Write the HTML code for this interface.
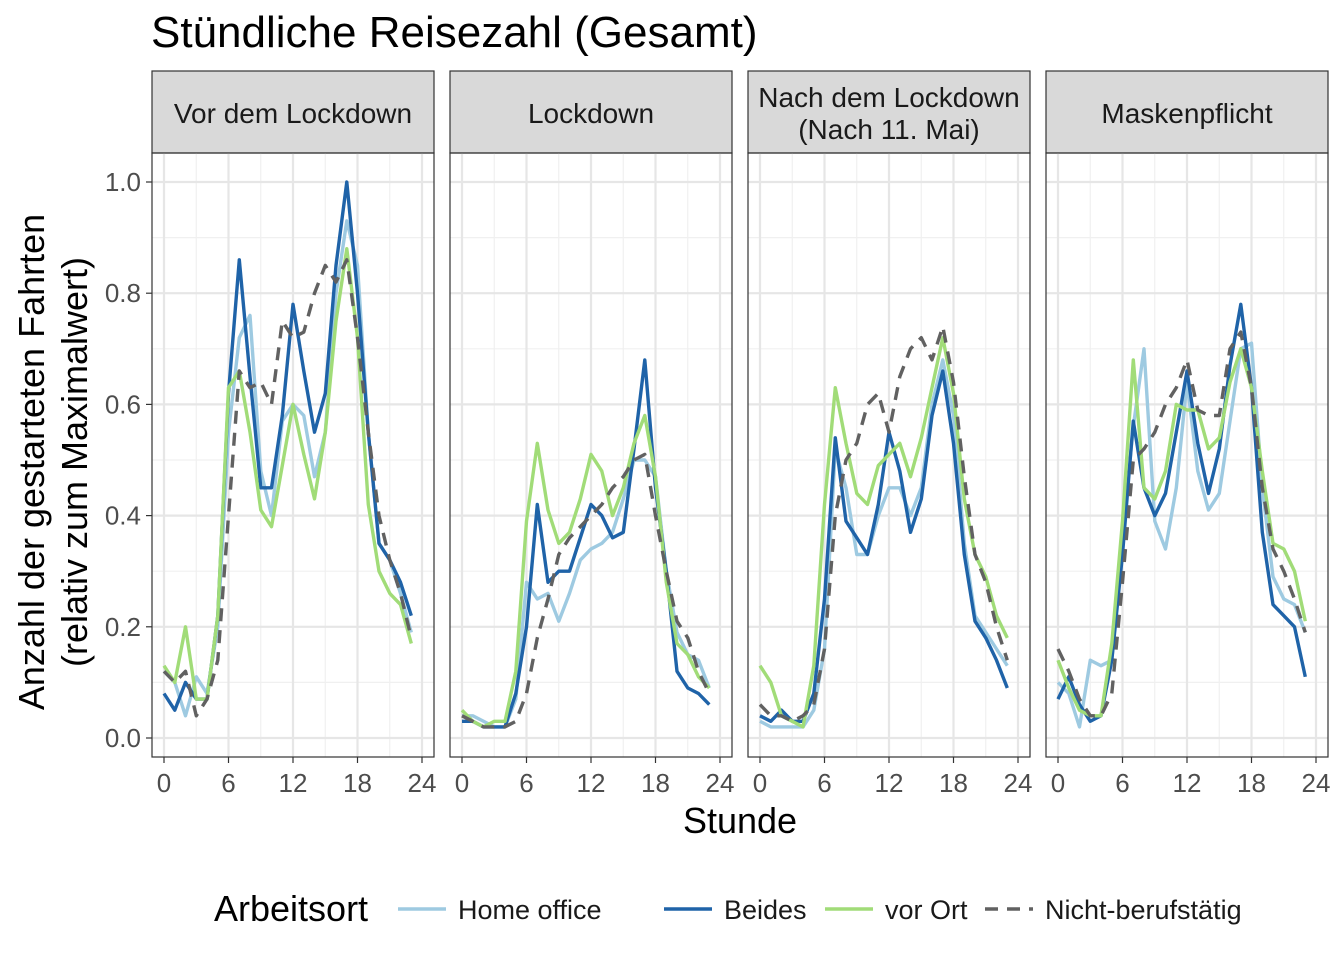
<!DOCTYPE html>
<html><head><meta charset="utf-8"><style>
body{margin:0;background:#fff;}
svg text{font-family:"Liberation Sans",Arial,sans-serif;}
</style></head><body>
<svg id="chart" width="1344" height="960" xmlns="http://www.w3.org/2000/svg">
<rect width="1344" height="960" fill="#fff"/>
<text x="151" y="47" font-size="44" fill="#000">Stündliche Reisezahl (Gesamt)</text>
<g id="panels"></g>
<text x="740" y="833" font-size="36" text-anchor="middle">Stunde</text>
<g transform="translate(44,462) rotate(-90)">
<text x="0" y="0" font-size="36" text-anchor="middle">Anzahl der gestarteten Fahrten</text>
<text x="0" y="43" font-size="36" text-anchor="middle">(relativ zum Maximalwert)</text>
</g>
<g id="legend">
<text x="214" y="921" font-size="36">Arbeitsort</text>
</g>
</svg>
<script>
const hours = [0,1,2,3,4,5,6,7,8,9,10,11,12,13,14,15,16,17,18,19,20,21,22,23];
const panelTitles = [["Vor dem Lockdown"],["Lockdown"],["Nach dem Lockdown","(Nach 11. Mai)"],["Maskenpflicht"]];
const seriesNames = ["Home office","Beides","vor Ort","Nicht-berufstätig"];
const xTicks = [0,6,12,18,24];
const yTicks = [0,0.2,0.4,0.6,0.8,1.0];
const yTickLabels = ["0.0","0.2","0.4","0.6","0.8","1.0"];
const homeOffice = [
 [0.12,0.10,0.04,0.11,0.08,0.20,0.55,0.72,0.76,0.48,0.40,0.57,0.60,0.58,0.47,0.55,0.80,0.93,0.85,0.55,0.35,0.32,0.26,0.19],
 [0.04,0.04,0.03,0.02,0.02,0.07,0.28,0.25,0.26,0.21,0.26,0.32,0.34,0.35,0.37,0.43,0.50,0.50,0.47,0.30,0.19,0.15,0.14,0.09],
 [0.03,0.02,0.02,0.02,0.02,0.05,0.16,0.52,0.45,0.33,0.33,0.40,0.45,0.45,0.40,0.45,0.60,0.68,0.58,0.35,0.22,0.19,0.16,0.13],
 [0.10,0.08,0.02,0.14,0.13,0.14,0.36,0.56,0.70,0.39,0.34,0.45,0.64,0.48,0.41,0.44,0.57,0.70,0.71,0.45,0.29,0.25,0.24,0.19]];
const beides = [
 [0.08,0.05,0.10,0.07,0.07,0.22,0.62,0.86,0.65,0.45,0.45,0.58,0.78,0.66,0.55,0.62,0.85,1.0,0.80,0.55,0.35,0.32,0.28,0.22],
 [0.03,0.03,0.02,0.02,0.02,0.08,0.20,0.42,0.28,0.30,0.30,0.36,0.42,0.40,0.36,0.37,0.52,0.68,0.45,0.30,0.12,0.09,0.08,0.06],
 [0.04,0.03,0.05,0.03,0.03,0.08,0.25,0.54,0.39,0.36,0.33,0.42,0.55,0.48,0.37,0.43,0.58,0.66,0.53,0.33,0.21,0.18,0.14,0.09],
 [0.07,0.11,0.06,0.03,0.04,0.14,0.33,0.57,0.45,0.40,0.44,0.55,0.66,0.53,0.44,0.52,0.67,0.78,0.63,0.37,0.24,0.22,0.20,0.11]];
const vorOrt = [
 [0.13,0.10,0.20,0.07,0.07,0.22,0.63,0.66,0.55,0.41,0.38,0.49,0.60,0.51,0.43,0.55,0.75,0.88,0.72,0.42,0.30,0.26,0.24,0.17],
 [0.05,0.03,0.02,0.03,0.03,0.12,0.39,0.53,0.41,0.35,0.37,0.43,0.51,0.48,0.40,0.45,0.53,0.58,0.47,0.28,0.17,0.15,0.11,0.09],
 [0.13,0.10,0.04,0.03,0.02,0.13,0.42,0.63,0.53,0.44,0.42,0.49,0.51,0.53,0.47,0.54,0.63,0.72,0.62,0.43,0.33,0.29,0.22,0.18],
 [0.14,0.09,0.05,0.04,0.04,0.17,0.39,0.68,0.45,0.43,0.48,0.60,0.59,0.59,0.52,0.54,0.64,0.70,0.63,0.48,0.35,0.34,0.30,0.21]];
const nicht = [
 [0.12,0.10,0.12,0.04,0.07,0.14,0.40,0.66,0.63,0.64,0.60,0.75,0.72,0.73,0.80,0.85,0.82,0.86,0.72,0.55,0.40,0.32,0.26,0.18],
 [0.04,0.03,0.02,0.02,0.02,0.03,0.08,0.18,0.25,0.33,0.36,0.38,0.40,0.42,0.45,0.47,0.50,0.51,0.40,0.30,0.21,0.18,0.12,0.08],
 [0.06,0.04,0.04,0.03,0.04,0.06,0.16,0.40,0.50,0.53,0.60,0.62,0.55,0.65,0.70,0.72,0.68,0.74,0.64,0.47,0.33,0.28,0.20,0.14],
 [0.16,0.12,0.07,0.04,0.04,0.08,0.28,0.50,0.52,0.55,0.60,0.63,0.68,0.59,0.58,0.58,0.70,0.73,0.63,0.45,0.34,0.30,0.25,0.19]];

(function(){
const NS="http://www.w3.org/2000/svg";
const panelsG=document.getElementById('panels');
const panelLeft=[152,450,748,1046], panelW=282;
const plotTop=153, plotBottom=757;
const colors=["#9ecae1","#1f63a8","#a1dc78","#616161"];
const allData=[homeOffice,beides,vorOrt,nicht];
function el(tag,attrs,parent){const e=document.createElementNS(NS,tag);for(const k in attrs)e.setAttribute(k,attrs[k]);parent.appendChild(e);return e;}
function yScale(v){return 738-v*556;}
for(let p=0;p<4;p++){
  const L=panelLeft[p];
  const xScale=h=>L+12+h*(panelW-24)/24;
  const g=el('g',{},panelsG);
  
  
  const s=el('rect',{x:L,y:71,width:panelW,height:82,fill:"#d9d9d9",stroke:"#333",'stroke-width':1.2},g);
  
  
  const lines=panelTitles[p];
  lines.forEach((t,i)=>{const tx=el('text',{x:L+panelW/2,y:(lines.length==1?123:107+i*32),'font-size':28,'text-anchor':'middle',fill:'#1a1a1a'},g);tx.textContent=t;
    
    });
  for(let h=3;h<24;h+=6) el('line',{x1:xScale(h),x2:xScale(h),y1:plotTop,y2:plotBottom,stroke:"#f0f0f0",'stroke-width':1.2},g);
  for(let v=0.1;v<1.05;v+=0.2) el('line',{x1:L,x2:L+panelW,y1:yScale(v),y2:yScale(v),stroke:"#f0f0f0",'stroke-width':1.2},g);
  xTicks.forEach(h=>el('line',{x1:xScale(h),x2:xScale(h),y1:plotTop,y2:plotBottom,stroke:"#e6e6e6",'stroke-width':2.2},g));
  yTicks.forEach(v=>el('line',{x1:L,x2:L+panelW,y1:yScale(v),y2:yScale(v),stroke:"#e6e6e6",'stroke-width':2.2},g));
  for(let sI=0;sI<4;sI++){
    const d=allData[sI][p].map((v,i)=>(i?'L':'M')+xScale(hours[i]).toFixed(1)+','+yScale(v).toFixed(1)).join('');
    const a={d:d,fill:'none',stroke:colors[sI],'stroke-width':3.4,'stroke-linejoin':'round'};
    if(sI==3)a['stroke-dasharray']='13,9';
    const path=el('path',a,g);
    
    
  }
  el('rect',{x:L,y:plotTop,width:panelW,height:plotBottom-plotTop,fill:'none',stroke:'#333','stroke-width':1.2},g);
  xTicks.forEach(h=>{el('line',{x1:xScale(h),x2:xScale(h),y1:plotBottom,y2:plotBottom+6,stroke:'#333','stroke-width':1.2},g);
    const t=el('text',{x:xScale(h),y:792,'font-size':26,'text-anchor':'middle',fill:'#4d4d4d'},g);t.textContent=h;
    
    });
  if(p==0){
    yTicks.forEach((v,i)=>{el('line',{x1:L-6,x2:L,y1:yScale(v),y2:yScale(v),stroke:'#333','stroke-width':1.2},g);
      const t=el('text',{x:L-11,y:yScale(v)+9,'font-size':26,'text-anchor':'end',fill:'#4d4d4d'},g);t.textContent=yTickLabels[i];
      
      });
  }
}
const lg=document.getElementById('legend');
const keyX=[398,664,825,985];
seriesNames.forEach((n,i)=>{
  const a={x1:keyX[i],x2:keyX[i]+48,y1:909,y2:909,stroke:colors[i],'stroke-width':3.4};
  if(i==3)a['stroke-dasharray']='13,9';
  const l=el('line',a,lg);
  
  
  const t=el('text',{x:keyX[i]+60,y:919,'font-size':27,fill:'#1a1a1a'},lg);
  t.textContent=n;
  
  
});
})();
</script>
</body></html>
